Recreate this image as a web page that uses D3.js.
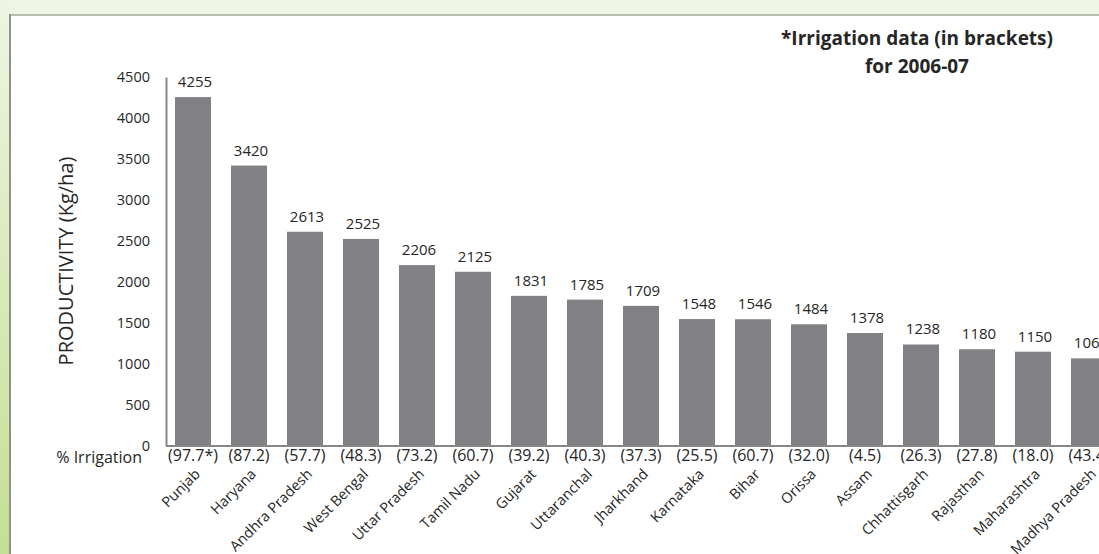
<!DOCTYPE html>
<html>
<head>
<meta charset="utf-8">
<script src="https://cdn.jsdelivr.net/npm/d3@7/dist/d3.min.js"></script>
<style>
  html, body { margin: 0; padding: 0; overflow: hidden; background: #fff; }
  svg { display: block; }
  text { font-family: "Open Sans", "DejaVu Sans", sans-serif; fill: #262626; }
</style>
</head>
<body>
<svg id="chart" width="1099" height="554"></svg>
<script>
// ---- Data ----
const states = ["Punjab", "Haryana", "Andhra Pradesh", "West Bengal", "Uttar Pradesh", "Tamil Nadu",
  "Gujarat", "Uttaranchal", "Jharkhand", "Karnataka", "Bihar", "Orissa", "Assam",
  "Chhattisgarh", "Rajasthan", "Maharashtra", "Madhya Pradesh"];
const productivity = [4255, 3420, 2613, 2525, 2206, 2125, 1831, 1785, 1709, 1548, 1546, 1484, 1378, 1238, 1180, 1150, 1069];
const irrigation = [97.7, 87.2, 57.7, 48.3, 73.2, 60.7, 39.2, 40.3, 37.3, 25.5, 60.7, 32.0, 4.5, 26.3, 27.8, 18.0, 43.4];
const irrigationNote = ["*", "", "", "", "", "", "", "", "", "", "", "", "", "", "", "", ""];
const yTicks = [0, 500, 1000, 1500, 2000, 2500, 3000, 3500, 4000, 4500];
const yTitle = "PRODUCTIVITY (Kg/ha)";
const rowLabel = "% Irrigation";
const noteLines = ["*Irrigation data (in brackets)", "for 2006-07"];

const svg = d3.select("#chart");
const W = 1099, H = 554;

// ---- Background frame ----
const defs = svg.append("defs");
const lg = defs.append("linearGradient").attr("id", "leftGrad")
  .attr("x1", 0).attr("y1", 0).attr("x2", 0).attr("y2", 1);
lg.append("stop").attr("offset", "0%").attr("stop-color", "#eef5e2");
lg.append("stop").attr("offset", "100%").attr("stop-color", "#c4df93");

svg.append("rect").attr("x", 0).attr("y", 0).attr("width", W).attr("height", H).attr("fill", "#eef5e2");
svg.append("rect").attr("x", 0).attr("y", 0).attr("width", 11).attr("height", H).attr("fill", "url(#leftGrad)");
svg.append("rect").attr("x", 11).attr("y", 16).attr("width", W - 11).attr("height", H - 16).attr("fill", "#ffffff");
svg.append("line").attr("x1", 9).attr("x2", W).attr("y1", 15).attr("y2", 15)
  .attr("stroke", "#b9bfae").attr("stroke-width", 2);
svg.append("line").attr("x1", 10).attr("x2", 10).attr("y1", 14).attr("y2", H)
  .attr("stroke", "#8f918b").attr("stroke-width", 2);

// ---- Scales ----
const x = d3.scaleBand().domain(states).range([165, 165 + 56 * states.length])
  .paddingInner(0.357).paddingOuter(0.1785);
const y = d3.scaleLinear().domain([0, 4500]).range([446, 77]);

// ---- Y axis ----
const yAxis = d3.axisLeft(y).tickValues(yTicks).tickSize(0).tickPadding(16).tickFormat(d3.format("d"));
const gy = svg.append("g").attr("transform", "translate(166,0)").call(yAxis);
gy.select(".domain").attr("stroke", "#878787").attr("stroke-width", 2);
gy.selectAll("text").style("font-size", "14.5px").style("font-family", "'Open Sans', sans-serif").attr("fill", "#262626");

// ---- Bars ----
svg.append("g").selectAll("rect").data(states).join("rect")
  .attr("x", d => x(d))
  .attr("y", (d, i) => y(productivity[i]))
  .attr("width", x.bandwidth())
  .attr("height", (d, i) => y(0) - y(productivity[i]))
  .attr("fill", "#818185");

// baseline
svg.append("line").attr("x1", 166).attr("x2", W).attr("y1", y(0)).attr("y2", y(0))
  .attr("stroke", "#878787").attr("stroke-width", 2);

// ---- Value labels ----
svg.append("g").selectAll("text").data(states).join("text")
  .attr("x", d => x(d) + x.bandwidth() / 2 + 2)
  .attr("y", (d, i) => y(productivity[i]) - 10)
  .attr("text-anchor", "middle")
  .style("font-size", "15px")
  .text((d, i) => productivity[i]);

// ---- Irrigation row ----
svg.append("text").attr("x", 142).attr("y", 463).attr("text-anchor", "end")
  .style("font-size", "16px").text(rowLabel);
svg.append("g").selectAll("text").data(states).join("text")
  .attr("x", d => x(d) + x.bandwidth() / 2)
  .attr("y", 461)
  .attr("text-anchor", "middle")
  .style("font-size", "16px")
  .text((d, i) => "(" + d3.format(".1f")(irrigation[i]) + irrigationNote[i] + ")");

// ---- Category labels ----
svg.append("g").selectAll("text").data(states).join("text")
  .attr("transform", d => `translate(${x(d) + x.bandwidth() / 2 + 8},475) rotate(-45)`)
  .attr("text-anchor", "end")
  .style("font-size", "14.5px")
  .text(d => d);

// ---- Y title ----
svg.append("text").attr("transform", "translate(73,261) rotate(-90)")
  .attr("text-anchor", "middle").style("font-size", "20px").text(yTitle);

// ---- Note ----
svg.append("g").selectAll("text").data(noteLines).join("text")
  .attr("x", 917).attr("y", (d, i) => 45 + i * 28)
  .attr("text-anchor", "middle")
  .style("font-size", "19px").style("font-weight", "bold")
  .text(d => d);
</script>
</body>
</html>
